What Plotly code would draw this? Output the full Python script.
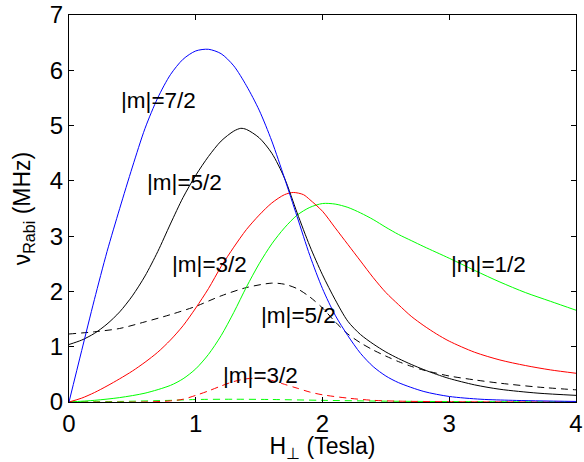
import plotly.graph_objects as go

# |m|=7/2 (blue, solid)
h_blue = [0, 0.1, 0.2, 0.3, 0.4, 0.5, 0.6, 0.7, 0.8, 0.9, 1.0, 1.1, 1.2, 1.3, 1.4, 1.5, 1.6, 1.7, 1.8,
          1.9, 2.0, 2.1, 2.2, 2.3, 2.4, 2.5, 2.6, 2.8, 3.0, 3.25, 3.5, 4.0]
v_blue = [0, 0.93, 1.85, 2.72, 3.5, 4.25, 4.95, 5.5, 5.92, 6.2, 6.35, 6.38, 6.3, 6.08, 5.72, 5.28, 4.72, 4.05, 3.35,
          2.65, 2.05, 1.57, 1.2, 0.88, 0.64, 0.47, 0.35, 0.19, 0.1, 0.05, 0.03, 0.01]

# |m|=5/2 (black, solid)
h_black = [0, 0.1, 0.2, 0.3, 0.4, 0.5, 0.6, 0.7, 0.8, 0.9, 1.0, 1.1, 1.2, 1.3, 1.355, 1.4, 1.5, 1.6, 1.7, 1.8,
           1.9, 2.0, 2.1, 2.2, 2.3, 2.4, 2.5, 2.6, 2.7, 2.8, 2.9, 3.0, 3.2, 3.4, 3.7, 4.0]
v_black = [1.04, 1.12, 1.24, 1.41, 1.63, 1.92, 2.28, 2.72, 3.22, 3.7, 4.1, 4.44, 4.72, 4.9, 4.95, 4.93, 4.78, 4.5, 4.05, 3.42,
           2.82, 2.3, 1.85, 1.46, 1.22, 1.05, 0.905, 0.785, 0.68, 0.585, 0.5, 0.425, 0.31, 0.23, 0.16, 0.12]

# |m|=5/2 (black, dashed)
h_black_d = [0, 0.2, 0.4, 0.6, 0.8, 1.0, 1.2, 1.4, 1.6, 1.7, 1.8, 1.9, 2.0, 2.1, 2.2, 2.3, 2.4, 2.5, 2.6,
             2.7, 2.8, 2.9, 3.0, 3.2, 3.4, 3.7, 4.0]
v_black_d = [1.23, 1.27, 1.33, 1.45, 1.58, 1.73, 1.92, 2.07, 2.15, 2.13, 2.05, 1.9, 1.7, 1.45, 1.23, 1.07, 0.94, 0.83, 0.73,
             0.645, 0.575, 0.52, 0.47, 0.4, 0.34, 0.27, 0.22]

# |m|=3/2 (red, solid)
h_red = [0, 0.1, 0.2, 0.3, 0.4, 0.5, 0.6, 0.7, 0.8, 0.9, 1.0, 1.1, 1.2, 1.3, 1.4, 1.5, 1.6, 1.7, 1.77, 1.85,
         1.9, 2.0, 2.1, 2.2, 2.3, 2.4, 2.5, 2.6, 2.7, 2.8, 2.9, 3.0, 3.2, 3.4, 3.6, 3.8, 4.0]
v_red = [0, 0.07, 0.17, 0.29, 0.42, 0.56, 0.72, 0.9, 1.12, 1.38, 1.7, 2.05, 2.45, 2.8, 3.12, 3.38, 3.6, 3.75, 3.79, 3.75,
         3.66, 3.45, 3.15, 2.85, 2.55, 2.25, 1.98, 1.76, 1.55, 1.38, 1.23, 1.1, 0.9, 0.76, 0.66, 0.58, 0.52]

# |m|=3/2 (red, dashed)
h_red_d = [0, 0.6, 0.8, 0.9, 1.0, 1.1, 1.2, 1.3, 1.4, 1.5, 1.6, 1.7, 1.8, 1.9, 2.0, 2.2, 2.4, 2.6, 3.0, 4.0]
v_red_d = [0, 0.0, 0.02, 0.05, 0.12, 0.2, 0.29, 0.37, 0.42, 0.43, 0.39, 0.32, 0.25, 0.18, 0.13, 0.07, 0.03, 0.015, 0.005, 0]

# |m|=1/2 (green, solid)
h_green = [0, 0.2, 0.4, 0.6, 0.8, 0.9, 1.0, 1.1, 1.2, 1.3, 1.4, 1.5, 1.6, 1.7, 1.8, 1.9, 2.0, 2.1, 2.2,
           2.3, 2.4, 2.5, 2.6, 2.7, 2.8, 3.0, 3.2, 3.4, 3.6, 3.8, 4.0]
v_green = [0, 0.03, 0.08, 0.16, 0.3, 0.42, 0.6, 0.86, 1.2, 1.62, 2.08, 2.5, 2.86, 3.15, 3.38, 3.52, 3.59, 3.58, 3.52,
           3.42, 3.3, 3.16, 3.03, 2.92, 2.81, 2.6, 2.38, 2.17, 1.98, 1.82, 1.66]

# |m|=1/2 (green, dashed)
h_green_d = [0, 0.4, 0.8, 1.0, 1.3, 1.6, 2.0, 2.5, 3.0, 4.0]
v_green_d = [0, 0.01, 0.03, 0.045, 0.05, 0.045, 0.03, 0.015, 0.008, 0.003]

# labels
label_text = ["|m|=7/2", "|m|=5/2", "|m|=3/2", "|m|=1/2", "|m|=5/2", "|m|=3/2"]
label_h = [0.71, 0.91, 1.11, 3.31, 1.81, 1.51]
label_v = [5.46, 3.97, 2.48, 2.48, 1.57, 0.48]

x_ticks = [0, 1, 2, 3, 4]
y_ticks = [0, 1, 2, 3, 4, 5, 6, 7]

FONT = "Liberation Sans, Arial, Helvetica, sans-serif"

fig = go.Figure()

def add(h, v, color, dash="solid"):
    fig.add_trace(go.Scatter(
        x=h, y=v, mode="lines",
        line=dict(color=color, width=1, dash=dash, shape="spline", smoothing=0.8),
        hoverinfo="skip", showlegend=False))

DASH = "7px,5px"
add(h_green_d, v_green_d, "#00ff00", DASH)
add(h_red_d, v_red_d, "#ff0000", DASH)
add(h_black_d, v_black_d, "#000000", DASH)
add(h_green, v_green, "#00ff00")
add(h_red, v_red, "#ff0000")
add(h_black, v_black, "#000000")
add(h_blue, v_blue, "#0000ff")

for t, hx, vy in zip(label_text, label_h, label_v):
    fig.add_annotation(x=hx, y=vy, text=t, showarrow=False,
                       font=dict(family=FONT, size=22.5, color="black"),
                       xanchor="center", yanchor="middle")

axis_common = dict(
    showline=True, linecolor="black", linewidth=1, mirror="ticks",
    ticks="inside", ticklen=5, tickwidth=1, tickcolor="black",
    showgrid=False, zeroline=False, automargin=False,
    ticklabeloverflow="allow",
    tickfont=dict(family=FONT, size=24, color="black"),
)

fig.update_xaxes(range=[0, 4], tickvals=x_ticks,
                 title=dict(text="H<sub>⊥</sub> (Tesla)", font=dict(family=FONT, size=23, color="black"), standoff=0),
                 **axis_common)
fig.update_yaxes(range=[0, 7], tickvals=y_ticks,
                 title=dict(text="ν<sub>Rabi</sub> (MHz)", font=dict(family=FONT, size=23, color="black"), standoff=12),
                 **axis_common)

fig.update_layout(
    width=584, height=462,
    margin=dict(l=69, r=8, t=15, b=60),
    paper_bgcolor="white", plot_bgcolor="white",
    font=dict(family=FONT, color="black"),
)

fig.write_html(
    "out.html",
    config={"displayModeBar": False},
    post_script="document.body.style.margin='0';document.body.style.overflow='hidden';",
)
